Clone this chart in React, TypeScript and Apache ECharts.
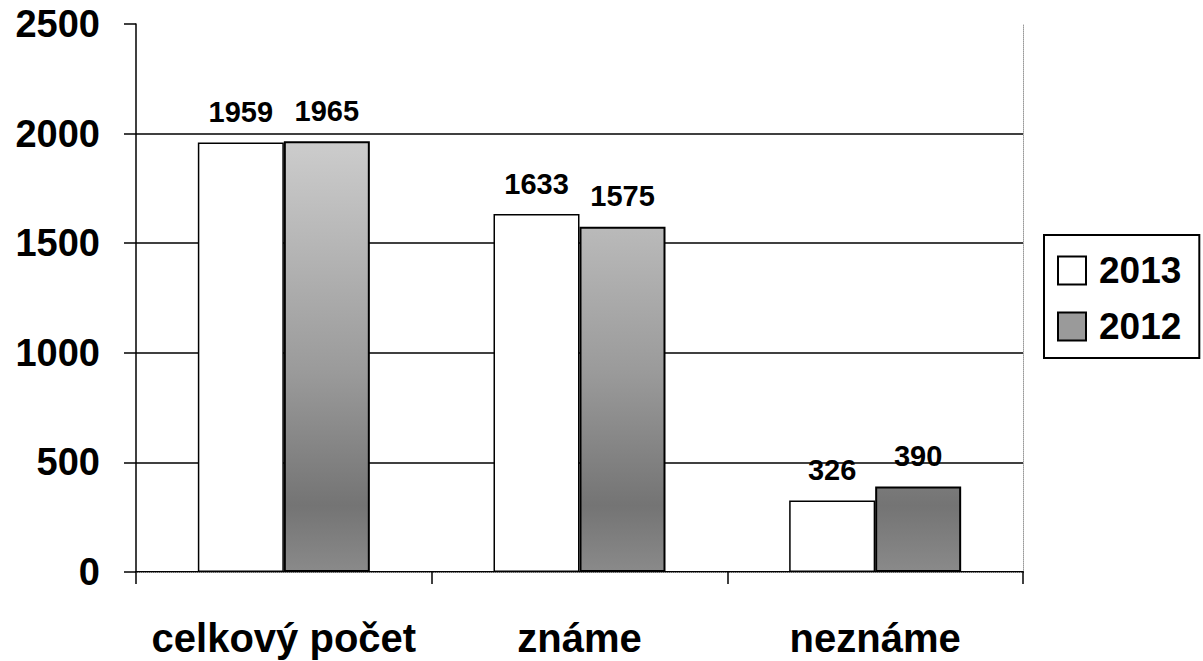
import React, { useEffect, useRef } from "react";
import * as echarts from "echarts";

const categories = ["celkový počet", "známe", "neznáme"];
const values2013 = [1959, 1633, 326];
const values2012 = [1965, 1575, 390];
const seriesNames = ["2013", "2012"];
const yTicks = { min: 0, max: 2500, interval: 500 };

const FONT = "'Liberation Sans', Arial, sans-serif";

export default function App() {
  const ref = useRef<HTMLDivElement>(null);

  useEffect(() => {
    if (!ref.current) return;
    const chart = echarts.init(ref.current, undefined, { renderer: "svg" });
    const grayFill = new echarts.graphic.LinearGradient(
      0, 130, 0, 572,
      [
        { offset: 0, color: "#cfcfcf" },
        { offset: 0.55, color: "#9a9a9a" },
        { offset: 0.85, color: "#747474" },
        { offset: 1, color: "#8a8a8a" },
      ],
      true
    );
    const labelStyle = {
      show: true,
      position: "top" as const,
      distance: 16,
      fontFamily: FONT,
      fontWeight: "bold" as const,
      fontSize: 29,
      color: "#000",
    };
    chart.setOption({
      animation: false,
      backgroundColor: "#fff",
      textStyle: { fontFamily: FONT },
      grid: { left: 136, right: 180, top: 24, bottom: 89, containLabel: false },
      legend: {
        orient: "vertical",
        left: 1044,
        top: 235,
        padding: [17, 18, 13, 13],
        itemGap: 19,
        itemWidth: 28,
        itemHeight: 28,
        borderColor: "#000",
        borderWidth: 2,
        icon: "rect",
        textStyle: {
          fontFamily: FONT,
          fontWeight: "bold",
          fontSize: 37,
          color: "#000",
          padding: [0, 0, 0, 8],
        },
        data: [
          { name: seriesNames[0] },
          { name: seriesNames[1], itemStyle: { color: "#9a9a9a", borderColor: "#000", borderWidth: 2 } },
        ],
      },
      xAxis: [
        {
          type: "category",
          data: categories,
          position: "bottom",
          axisLine: { show: true, lineStyle: { color: "#000", width: 2 } },
          axisTick: { show: true, length: 12, lineStyle: { color: "#000", width: 1.5 } },
          axisLabel: {
            interval: 0,
            margin: 46,
            fontFamily: FONT,
            fontWeight: "bold",
            fontSize: 40,
            color: "#000",
          },
          splitLine: { show: false },
        },
        {
          type: "category",
          data: categories,
          position: "top",
          axisLine: { show: true, lineStyle: { color: "#999", width: 1, type: "dotted" } },
          axisTick: { show: false },
          axisLabel: { show: false },
          splitLine: { show: false },
        },
      ],
      yAxis: [
        {
          type: "value",
          min: yTicks.min,
          max: yTicks.max,
          interval: yTicks.interval,
          position: "left",
          axisLine: { show: true, lineStyle: { color: "#000", width: 1.5 } },
          axisTick: { show: true, length: 12, lineStyle: { color: "#000", width: 1.5 } },
          axisLabel: {
            margin: 36,
            fontFamily: FONT,
            fontWeight: "bold",
            fontSize: 38,
            color: "#000",
            formatter: (v: number) => String(v),
          },
          splitLine: {
            show: true,
            showMaxLine: false,
            lineStyle: { color: "#000", width: 1.5 },
          },
        },
        {
          type: "value",
          min: yTicks.min,
          max: yTicks.max,
          interval: yTicks.interval,
          position: "right",
          axisLine: { show: true, lineStyle: { color: "#999", width: 1, type: "dotted" } },
          axisTick: { show: false },
          axisLabel: { show: false },
          splitLine: { show: false },
        },
      ],
      series: [
        {
          name: seriesNames[0],
          type: "bar",
          data: values2013,
          barWidth: 86,
          barGap: "0%",
          itemStyle: { color: "#fff", borderColor: "#000", borderWidth: 1.5 },
          label: labelStyle,
        },
        {
          name: seriesNames[1],
          type: "bar",
          data: values2012,
          barWidth: 86,
          barGap: "0%",
          itemStyle: { color: grayFill, borderColor: "#000", borderWidth: 2 },
          label: labelStyle,
        },
      ],
    });
    return () => chart.dispose();
  }, []);

  return (
    <div
      ref={ref}
      style={{ position: "fixed", left: 0, top: 0, width: 1203, height: 661, background: "#fff" }}
    />
  );
}
